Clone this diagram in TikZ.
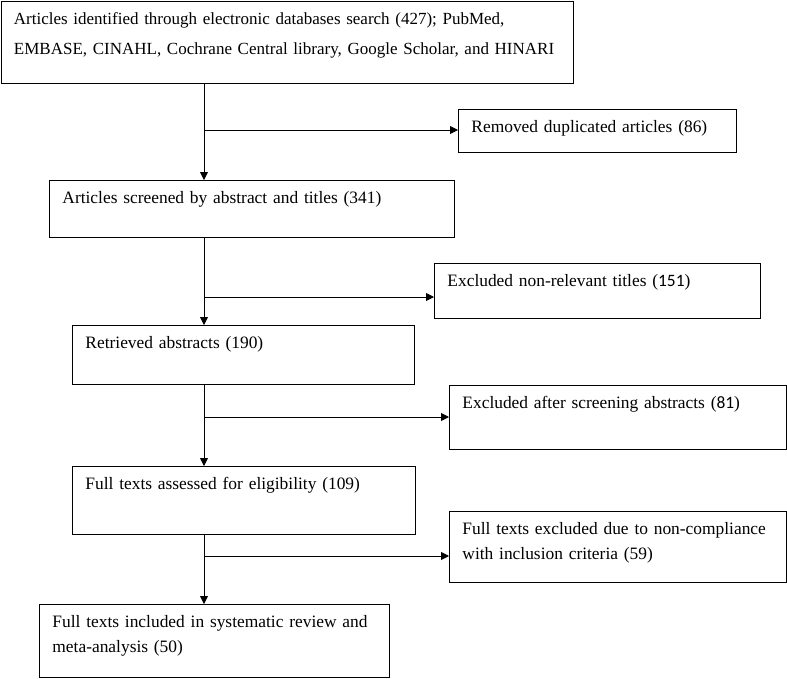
\documentclass[tikz,border=0pt]{standalone}
\usepackage{fontspec}
\setmainfont{Liberation Serif}
\newfontfamily\digitfont{Carlito}
\usetikzlibrary{arrows.meta}

\begin{document}
\begin{tikzpicture}[x=1pt,y=1pt,
  stage/.style={draw, line width=0.9pt, anchor=north west, align=left,
    inner xsep=13pt, inner ysep=10pt, text height=13pt,
    font=\fontsize{17.4}{25}\selectfont},
  flow/.style={line width=0.9pt, -{Triangle[length=8pt,width=8pt]}}]
  % Define the column of the main stream
  \def\mainx{204}

  \useasboundingbox (0,0) rectangle (787,-678);

  % Draw the boxes of the main stream
  \node[stage, text width=546pt, text depth=49pt, font=\fontsize{17}{30}\selectfont] (b1) at (0.5,-1)
    {Articles identified through electronic databases search (427); PubMed,\\
     EMBASE, CINAHL, Cochrane Central library, Google Scholar, and HINARI};
  \node[stage, text width=379pt, text depth=24pt] (b2) at (49,-180)
    {Articles screened by abstract and titles (341)};
  \node[stage, text width=316pt, text depth=26pt] (b3) at (72,-325)
    {Retrieved abstracts (190)};
  \node[stage, text width=317pt, text depth=35pt] (b4) at (72,-466)
    {Full texts assessed for eligibility (109)};
  \node[stage, text width=324pt, text depth=40pt] (b5) at (39,-604)
    {Full texts included in systematic review and\\ meta-analysis (50)};

  % Draw the boxes of the removed records
  \node[stage, text width=252pt, text depth=10pt] (r1) at (458,-109)
    {Removed duplicated articles (86)};
  \node[stage, text width=300pt, text depth=22pt] (r2) at (434,-263)
    {Excluded non-relevant titles ({\digitfont 151})};
  \node[stage, text width=311pt, text depth=31pt] (r3) at (449,-385)
    {Excluded after screening abstracts ({\digitfont 81})};
  \node[stage, text width=311pt, text depth=38pt] (r4) at (449,-511)
    {Full texts excluded due to non-compliance\\ with inclusion criteria (59)};

  % Define the branch points on the main stream
  \foreach \n/\y in {1/130,2/297,3/417,4/556}
    \coordinate (j\n) at (\mainx,-\y);

  % Draw the main stream
  \foreach \a/\b/\j in {b1/b2/j1,b2/b3/j2,b3/b4/j3,b4/b5/j4}
    \draw[flow] (\a.south -| \j) -- (\b.north -| \j);

  % Draw the branches to the removed records
  \foreach \n in {1,...,4}
    \draw[flow] (j\n) -- (j\n -| r\n.west);

\end{tikzpicture}
\end{document}
